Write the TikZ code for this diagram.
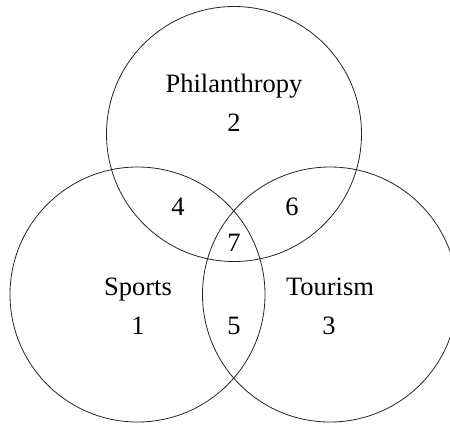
\documentclass[tikz,border=0pt]{standalone}
\usepackage{fontspec}
\setmainfont{Liberation Serif}
\begin{document}
\begin{tikzpicture}[x=1pt,y=-1pt,
  setcircle/.style={draw=black!85,line width=0.8pt,circle,minimum size=255pt,inner sep=0pt},
  lbl/.style={font=\fontsize{26.5}{30}\selectfont,inner sep=0pt,anchor=base}]
\useasboundingbox (0,0) rectangle (450,424);
\begin{scope}
\clip (0,0) rectangle (450,424);
\node[setcircle] (P) at (234,134) {};
\node[setcircle] (S) at (137.5,294.5) {};
\node[setcircle] (T) at (330,294.5) {};
\end{scope}
\node[lbl] (pl) at (234,92.5) {Philanthropy};
\node[lbl] (p2) at (234,131.5) {2};
\node[lbl] (sl) at (138,295) {Sports};
\node[lbl] (s1) at (138,334) {1};
\node[lbl] (tl) at (330,295) {Tourism};
\node[lbl] (t3) at (329,334) {3};
\node[lbl] (n4) at (178,215.5) {4};
\node[lbl] (n6) at (292,215.5) {6};
\node[lbl] (n7) at (234,251.5) {7};
\node[lbl] (n5) at (234,334) {5};
\end{tikzpicture}
\end{document}
